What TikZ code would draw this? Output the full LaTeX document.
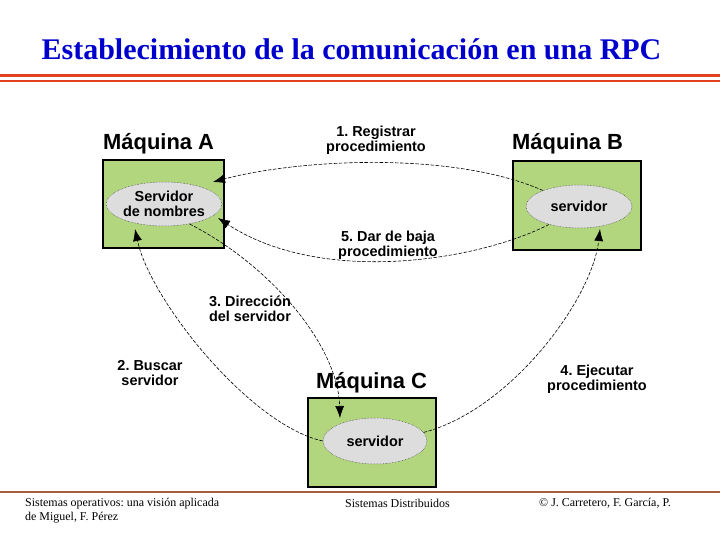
\documentclass[tikz,border=0pt]{standalone}
\usepackage{fontspec}
\setmainfont{Liberation Serif}
\newfontfamily\arialfont{Liberation Sans}
\usetikzlibrary{arrows.meta,shapes.geometric}
\definecolor{boxgreen}{RGB}{178,214,125}
\definecolor{ellgray}{RGB}{221,221,221}
\definecolor{titleblue}{RGB}{0,0,204}
\definecolor{rulered}{RGB}{226,66,30}
\definecolor{footbrown}{RGB}{165,95,60}
\newcommand\labfnt{\arialfont\bfseries\fontsize{14.5}{15}\selectfont}
\frenchspacing
\begin{document}
\begin{tikzpicture}[x=1bp,y=-1bp,
  mbox/.style={rectangle, draw=black, line width=1.2bp, fill=boxgreen, inner sep=0pt},
  sellipse/.style={ellipse, draw=black!75, densely dotted, line width=0.5bp, fill=ellgray, inner sep=0pt, align=center, font=\labfnt},
  lab/.style={font=\labfnt, align=center},
  mlab/.style={font=\arialfont\bfseries\fontsize{22}{24}\selectfont, anchor=base west, inner sep=0pt},
  foot/.style={font=\fontsize{12}{14.5}\selectfont, anchor=west, inner sep=0pt},
  conn/.style={line width=0.6bp, dash pattern=on 3.5bp off 1.6bp, -{Latex[length=12bp,width=9bp]}}]
\useasboundingbox (0,0) rectangle (720,540);
% title and rules
\node[font=\bfseries\fontsize{30.1}{32}\selectfont, text=titleblue, anchor=base, inner sep=0pt] (title) at (351.5,60) {Establecimiento de la comunicación en una RPC};
\draw[rulered, line width=3bp] (0,75.5) -- (720,75.5);
\draw[rulered, line width=2.3bp] (0,81.2) -- (720,81.2);
% machines
\node[mlab] (lA) at (103,150) {Máquina A};
\node[mlab] (lB) at (512,150) {Máquina B};
\node[mlab] (lC) at (316,388) {Máquina C};
\node[mbox, minimum width=121bp, minimum height=88bp] (bA) at (163.5,204) {};
\node[mbox, minimum width=128bp, minimum height=89bp] (bB) at (577,205.5) {};
\node[mbox, minimum width=128bp, minimum height=89bp] (bC) at (372,442.5) {};
\node[sellipse, minimum width=104bp, minimum height=44bp] (eA) at (164,204) {Servidor\\de nombres};
\node[sellipse, minimum width=106bp, minimum height=43bp] (eB) at (579,206.5) {servidor};
\node[sellipse, minimum width=104bp, minimum height=46bp] (eC) at (375,441) {servidor};
% labels
\node[lab] (n1) at (376,140) {1. Registrar\\procedimiento};
\node[lab] (n5) at (388,245.5) {5. Dar de baja\\procedimiento};
\node[lab] (n3) at (250,309) {3. Dirección\\del servidor};
\node[lab] (n2) at (150,373) {2. Buscar\\servidor};
\node[lab] (n4) at (597,379) {4. Ejecutar\\procedimiento};
% arrow tips
\coordinate (t1) at (213,182);
\coordinate (t5) at (218,218);
\coordinate (t3) at (340,418);
\coordinate (t2) at (135,229);
\coordinate (t4) at (600,229);
% connectors
\draw[conn] (eB.156) .. controls (450,150) and (295,160) .. (t1);
\draw[conn] (eB.211) .. controls (475,262) and (320,285) .. (t5);
\draw[conn] (eA.322) .. controls (270,265) and (338,345) .. (t3);
\draw[conn] (eC.west) .. controls (250,425) and (150,300) .. (t2);
\draw[conn] (eC.10) .. controls (510,410) and (592,300) .. (t4);
% footer
\draw[footbrown, line width=1.2bp] (0,492) -- (720,492);
\node[foot, align=left, anchor=north west] (f1) at (25,497.5) {Sistemas operativos: una visión aplicada\\de Miguel, F. Pérez};
\node[foot] (f2) at (345,503) {Sistemas Distribuidos};
\node[foot] (f3) at (539,503) {© J. Carretero, F. García, P.};
\end{tikzpicture}
\end{document}
